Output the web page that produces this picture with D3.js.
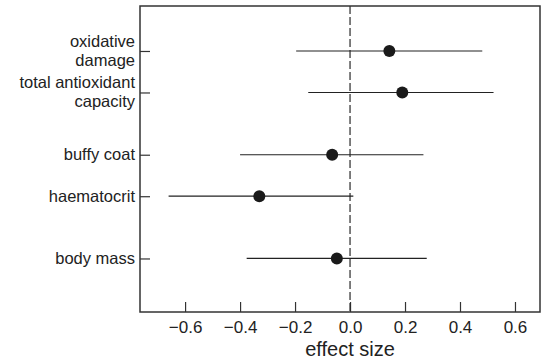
<!DOCTYPE html>
<meta charset="utf-8">
<head>
    <style>
        body { margin: 0; background: #fff; }
        svg text { font-family: "Liberation Sans", Arial, sans-serif; fill: #222; }
    </style>
</head>
<body>
<div id="forest"></div>
<script src="https://d3js.org/d3.v7.min.js"></script>
<script>
    // data
    const labels = [["oxidative", "damage"], ["total antioxidant", "capacity"], ["buffy coat"], ["haematocrit"], ["body mass"]];
    const rowPos = [1, 2, 3.5, 4.5, 6];
    const effect = [0.143, 0.19, -0.065, -0.33, -0.048];
    const lower = [-0.196, -0.152, -0.40, -0.66, -0.376];
    const upper = [0.481, 0.522, 0.267, 0.012, 0.279];
    const xTicks = [-0.6, -0.4, -0.2, 0.0, 0.2, 0.4, 0.6];

    const margin = {top: 6, right: 8, bottom: 51, left: 140},
        width = 548 - margin.left - margin.right,
        height = 363 - margin.top - margin.bottom;

    const svg = d3.select("#forest")
        .append("svg")
        .attr("width", 548)
        .attr("height", 363)
        .append("g")
        .attr("transform", `translate(${margin.left},${margin.top})`);

    const x = d3.scaleLinear()
        .domain([-0.764, 0.691])
        .range([0, width]);

    const y = d3.scaleLinear()
        .domain([-0.084, 7.29])
        .range([0, height]);

    // x axis, ticks pointing inward
    const xAxis = svg.append("g")
        .attr("transform", `translate(0,${height})`)
        .call(d3.axisBottom(x).tickValues(xTicks).tickSizeInner(-10).tickSizeOuter(0)
            .tickPadding(6)
            .tickFormat(d => d3.format(".1f")(d).replace("-", "\u2013")));
    xAxis.select(".domain").remove();
    xAxis.selectAll(".tick line").attr("stroke", "#333").attr("stroke-width", 1.2);
    xAxis.selectAll(".tick text")
        .style("font-size", "17px")
        .attr("fill", "#222")
        .attr("dy", "0.9em");

    // y axis ticks, inward
    const yAxis = svg.append("g")
        .call(d3.axisLeft(y).tickValues(rowPos).tickSizeInner(-10).tickSizeOuter(0).tickFormat(""));
    yAxis.select(".domain").remove();
    yAxis.selectAll(".tick line").attr("stroke", "#333").attr("stroke-width", 1.2);

    // row labels
    const fs = 16.5, lineH = 19;
    labels.forEach(function(lines, i) {
        const top = y(rowPos[i]) - (lines.length - 1) * lineH / 2;
        const t = svg.append("text")
            .attr("text-anchor", "end")
            .style("font-size", fs + "px");
        lines.forEach(function(s, j) {
            t.append("tspan")
                .attr("x", -5)
                .attr("y", top + j * lineH)
                .attr("dy", "0.33em")
                .text(s);
        });
    });

    // zero line
    svg.append("line")
        .attr("x1", x(0)).attr("x2", x(0))
        .attr("y1", 0).attr("y2", height)
        .attr("stroke", "#2a2a2a")
        .attr("stroke-width", 1.2)
        .attr("stroke-dasharray", "8,3");

    // error bars
    svg.append("g")
        .selectAll("line")
        .data(d3.range(effect.length))
        .join("line")
        .attr("x1", i => x(lower[i]))
        .attr("x2", i => x(upper[i]))
        .attr("y1", i => y(rowPos[i]))
        .attr("y2", i => y(rowPos[i]))
        .attr("stroke", "#222")
        .attr("stroke-width", 1.2);

    // points
    svg.append("g")
        .selectAll("circle")
        .data(d3.range(effect.length))
        .join("circle")
        .attr("cx", i => x(effect[i]))
        .attr("cy", i => y(rowPos[i]))
        .attr("r", 6)
        .attr("fill", "#1a1a1a");

    // frame
    svg.append("rect")
        .attr("width", width)
        .attr("height", height)
        .attr("fill", "none")
        .attr("stroke", "#333")
        .attr("stroke-width", 1.5);

    // x label
    svg.append("text")
        .attr("text-anchor", "middle")
        .style("font-size", "20px")
        .attr("x", x(0))
        .attr("y", height + 44)
        .text("effect size");
</script>
</body>
